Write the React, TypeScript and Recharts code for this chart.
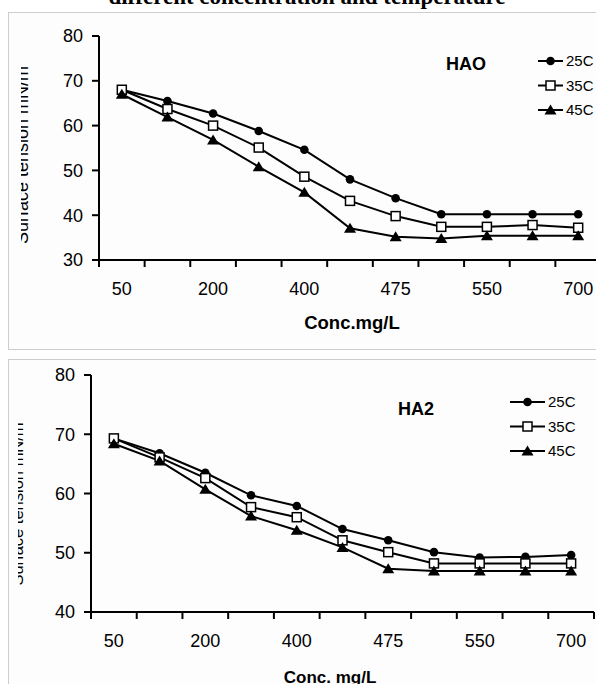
import { LineChart, Line, XAxis, YAxis, Legend } from "recharts"

// every other category carries a label on the x axis
const xTickLabels = ["50", "200", "400", "475", "550", "700"]
const seriesNames = ["25C", "35C", "45C"]

// HAO panel
const haoT25 = [68, 65.5, 62.7, 58.8, 54.6, 48, 43.8, 40.2, 40.2, 40.2, 40.2]
const haoT35 = [68, 63.7, 60, 55.1, 48.6, 43.2, 39.8, 37.4, 37.4, 37.8, 37.2]
const haoT45 = [67, 61.9, 56.8, 50.8, 45.1, 37.1, 35.2, 34.8, 35.4, 35.4, 35.4]
const haoYTicks = [30, 40, 50, 60, 70, 80]

// HA2 panel
const ha2T25 = [69.3, 66.8, 63.5, 59.7, 57.9, 54, 52.1, 50.1, 49.2, 49.3, 49.6]
const ha2T35 = [69.3, 66.1, 62.6, 57.7, 56, 52.1, 50.1, 48.2, 48.2, 48.2, 48.2]
const ha2T45 = [68.4, 65.5, 60.7, 56.2, 53.8, 50.9, 47.3, 46.9, 46.9, 46.9, 46.9]
const ha2YTicks = [40, 50, 60, 70, 80]

const FONT = "'Liberation Sans', Arial, sans-serif"
const keys = ["t25", "t35", "t45"]
type Shape = "circle" | "square" | "triangle"
const shapes: Shape[] = ["circle", "square", "triangle"]

function buildRows(a: number[], b: number[], c: number[]) {
  return a.map((v, i) => ({ idx: i, t25: v, t35: b[i], t45: c[i] }))
}

function Marker({ shape, cx, cy }: { shape: Shape; cx: number; cy: number }) {
  if (shape === "circle") return <circle cx={cx} cy={cy} r={4.3} fill="#000" />
  if (shape === "square")
    return <rect x={cx - 4.5} y={cy - 4.5} width={9} height={9} fill="#fff" stroke="#000" strokeWidth={1.5} />
  return <path d={`M${cx},${cy - 5.5}L${cx + 6},${cy + 4.5}L${cx - 6},${cy + 4.5}Z`} fill="#000" />
}

function XTick(props: any) {
  const { x, y, payload } = props
  const v = payload.value as number
  if (Number.isInteger(v)) {
    if (v % 2 !== 0) return <g />
    return (
      <text x={x} y={y + 35} textAnchor="middle" fontSize={18} fontFamily={FONT} fill="#000">
        {xTickLabels[v / 2]}
      </text>
    )
  }
  return <line x1={x} x2={x} y1={y} y2={y + 7} stroke="#000" strokeWidth={2} />
}

type PanelProps = {
  rows: ReturnType<typeof buildRows>
  yDomain: [number, number]
  yTicks: number[]
  top: number
  width: number
  height: number
  margin: { top: number; right: number; bottom: number; left: number }
  legendX: number
  legendY: number
  legendLine: number
}

function Panel({ rows, yDomain, yTicks, top, width, height, margin, legendX, legendY, legendLine }: PanelProps) {
  const n = rows.length
  const xTicks = Array.from({ length: 2 * n + 1 }, (_, k) => k / 2 - 0.5)
  const xDomain: [number, number] = [-0.5, n - 0.5]
  const axisLine = { stroke: "#000", strokeWidth: 2 }

  const legend = () => (
    <svg width={100} height={75} style={{ display: "block" }}>
      {seriesNames.map((name, i) => {
        const y = 8 + i * 24.5
        return (
          <g key={name}>
            <line x1={0} x2={legendLine} y1={y} y2={y} stroke="#000" strokeWidth={2} />
            <Marker shape={shapes[i]} cx={legendLine / 2} cy={y} />
            <text x={legendLine + 3} y={y + 5.3} fontSize={15} fontFamily={FONT} fill="#000">
              {name}
            </text>
          </g>
        )
      })}
    </svg>
  )

  return (
    <div style={{ position: "absolute", left: 0, top }}>
      <LineChart width={width} height={height} data={rows} margin={margin}>
        <XAxis
          dataKey="idx"
          type="number"
          domain={xDomain}
          ticks={xTicks}
          interval={0}
          tickSize={0}
          tickMargin={0}
          tickLine={false}
          tick={<XTick />}
          axisLine={axisLine}
          height={60}
        />
        <XAxis
          xAxisId="frame"
          dataKey="idx"
          type="number"
          domain={xDomain}
          orientation="top"
          tick={false}
          tickLine={false}
          axisLine={axisLine}
          height={0}
        />
        <YAxis
          type="number"
          domain={yDomain}
          ticks={yTicks}
          interval={0}
          tickSize={7}
          tickMargin={9}
          tick={{ fontSize: 18, fontFamily: FONT, fill: "#000" }}
          tickLine={{ stroke: "#000", strokeWidth: 2 }}
          axisLine={axisLine}
          width={60}
        />
        <YAxis
          yAxisId="frame"
          type="number"
          domain={yDomain}
          orientation="right"
          tick={false}
          tickLine={false}
          axisLine={axisLine}
          width={0}
        />
        <Legend
          layout="horizontal"
          verticalAlign="middle"
          align="center"
          content={legend}
          wrapperStyle={{ left: legendX, top: legendY, width: 100, height: 75 }}
        />
        {keys.map((k, i) => (
          <Line
            key={k}
            dataKey={k}
            name={seriesNames[i]}
            type="linear"
            stroke="#000"
            strokeWidth={2}
            isAnimationActive={false}
            dot={(p: any) => <Marker key={`${k}-${p.index}`} shape={shapes[i]} cx={p.cx} cy={p.cy} />}
          />
        ))}
      </LineChart>
    </div>
  )
}

export default function App() {
  const haoRows = buildRows(haoT25, haoT35, haoT45)
  const ha2Rows = buildRows(ha2T25, ha2T35, ha2T45)
  const box = { position: "absolute" as const, left: 8, width: 700, border: "1px solid #cdcdcd", background: "#fdfdfd" }

  return (
    <div style={{ position: "relative", width: 596, height: 684, overflow: "hidden", background: "#fff", fontFamily: FONT }}>
      <style>{"body{margin:0;overflow:hidden}"}</style>
      <div style={{ ...box, top: 12, height: 336 }} />
      <div style={{ ...box, top: 359, height: 400 }} />

      <Panel
        rows={haoRows}
        yDomain={[30, 80]}
        yTicks={haoYTicks}
        top={0}
        width={620}
        height={349}
        margin={{ top: 36, right: 19, bottom: 29, left: 39 }}
        legendX={538}
        legendY={53}
        legendLine={25}
      />
      <Panel
        rows={ha2Rows}
        yDomain={[40, 80]}
        yTicks={ha2YTicks}
        top={340}
        width={610}
        height={344}
        margin={{ top: 35, right: 16, bottom: 12, left: 31 }}
        legendX={510}
        legendY={54}
        legendLine={35}
      />

      <svg width={596} height={684} style={{ position: "absolute", left: 0, top: 0, pointerEvents: "none" }}>
        <defs>
          <clipPath id="clipTop">
            <rect x={21} y={40} width={20} height={240} />
          </clipPath>
          <clipPath id="clipBottom">
            <rect x={18} y={380} width={20} height={240} />
          </clipPath>
        </defs>
        <text x={307} y={4} textAnchor="middle" fontSize={23} fontWeight="bold" fontFamily="'Liberation Serif', serif" fill="#000">
          different concentration and temperature
        </text>
        <text x={466} y={70} textAnchor="middle" fontSize={18} fontWeight="bold" fontFamily={FONT} fill="#000">
          HAO
        </text>
        <text x={416} y={414.5} textAnchor="middle" fontSize={18} fontWeight="bold" fontFamily={FONT} fill="#000">
          HA2
        </text>
        <text x={352} y={328.5} textAnchor="middle" fontSize={18.5} fontWeight="bold" fontFamily={FONT} fill="#000">
          Conc.mg/L
        </text>
        <text x={330} y={682.5} textAnchor="middle" fontSize={17} fontWeight="bold" fontFamily={FONT} fill="#000">
          Conc. mg/L
        </text>
        <g clipPath="url(#clipTop)">
          <text x={27.5} y={155} transform="rotate(-90 27.5 155)" textAnchor="middle" fontSize={18} fontFamily={FONT} fill="#000">
            Surface tension mN/m
          </text>
        </g>
        <g clipPath="url(#clipBottom)">
          <text x={23} y={504} transform="rotate(-90 23 504)" textAnchor="middle" fontSize={16.5} fontFamily={FONT} fill="#000">
            Surface tension mN/m
          </text>
        </g>
      </svg>
    </div>
  )
}
